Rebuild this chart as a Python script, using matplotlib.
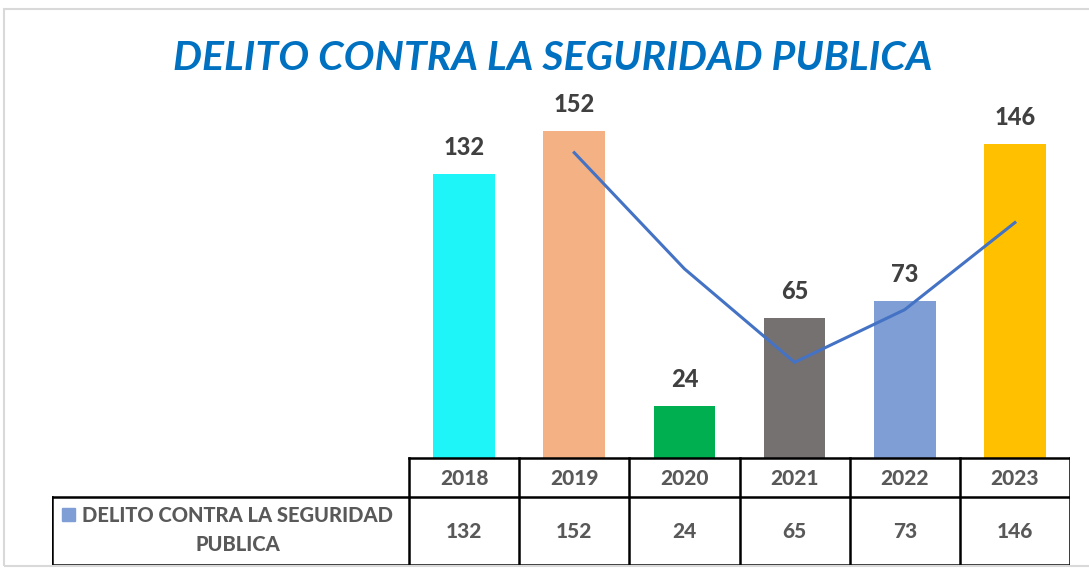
import matplotlib.pyplot as plt
from matplotlib.patches import Rectangle

# data
years = ['2018', '2019', '2020', '2021', '2022', '2023']
values = [132, 152, 24, 65, 73, 146]
trend = [None, 142, 88, 44.5, 69, 109.5]  # 2-period moving average
bar_colors = ['#1EF5F8', '#F4B183', '#00B050', '#767171', '#7F9ED6', '#FFC000']
series_name = 'DELITO CONTRA LA SEGURIDAD\nPUBLICA'
title = 'DELITO CONTRA LA SEGURIDAD PUBLICA'

W, H = 1089, 568
fig = plt.figure(figsize=(W / 100, H / 100), dpi=100)
plt.rcParams['font.family'] = ['Lato', 'DejaVu Sans']
gray = '#595959'
wt = 'black'

def fx(px):
    return px / W

def fy(py):
    return 1 - py / H

# outer frame
fig.patches.append(Rectangle((fx(4), fy(566)), fx(1200), fy(9) - fy(566),
                             transform=fig.transFigure, fill=False,
                             edgecolor='#D9D9D9', linewidth=1.5))

x0, x1 = 409, 1070
base, top = 458, 114
ymax = 160
ax = fig.add_axes([fx(x0), fy(base), fx(x1) - fx(x0), fy(top) - fy(base)])
xs = list(range(len(years)))
ax.bar(xs, values, width=0.56, color=bar_colors, zorder=2)
for x, v in zip(xs, values):
    ax.annotate(str(v), (x, v), xytext=(0, 11), textcoords='offset points',
                ha='center', va='bottom', fontsize=17, fontweight=wt,
                color='#404040', annotation_clip=False)
tx = [x for x, t in zip(xs, trend) if t is not None]
ty = [t for t in trend if t is not None]
ax.plot(tx, ty, color='#4472C4', linewidth=2.2, zorder=3)
ax.set_xlim(-0.5, len(years) - 0.5)
ax.set_ylim(0, ymax)
ax.axis('off')

fig.text(fx(553), fy(58), title, ha='center', va='center', fontsize=29.5,
         fontweight='bold', fontstyle='italic', color='#0070C0')

# data table
lbl_left = 52
unit = (x1 - x0) / len(years)
tax = fig.add_axes([fx(lbl_left), 0, fx(x1) - fx(lbl_left), 1])
tax.set_xlim(-0.5 - (x0 - lbl_left) / unit, len(years) - 0.5)
tax.set_ylim(H, 0)
tax.axis('off')
r0, r1, r2 = 458, 497, 565
lw = 1.8
edges = [i - 0.5 for i in range(len(years) + 1)]
xl = tax.get_xlim()[0]
tax.plot([edges[0], edges[-1]], [r0, r0], color='black', lw=lw)
tax.plot([xl, edges[-1]], [r1, r1], color='black', lw=lw)
tax.plot([xl, edges[-1]], [r2, r2], color='black', lw=lw)
tax.plot([xl, xl], [r1, r2], color='black', lw=lw)
for e in edges:
    tax.plot([e, e], [r0, r2], color='black', lw=lw)
for x, y, v in zip(xs, years, values):
    tax.text(x, (r0 + r1) / 2 + 1, y, ha='center', va='center', fontsize=15,
             fontweight=wt, color=gray)
    tax.text(x, (r1 + r2) / 2, str(v), ha='center', va='center', fontsize=15,
             fontweight=wt, color=gray)
lab_cx = xl + (238 - lbl_left) / unit
tax.text(lab_cx, (r1 + r2) / 2 - 1, series_name, ha='center', va='center',
         fontsize=14.5, fontweight=wt, color=gray, linespacing=1.6)
sq = 13 / unit
tax.add_patch(Rectangle((xl + 10 / unit, 508), sq, 13, color='#7F9ED6'))

fig.savefig('out.png', dpi=100)
